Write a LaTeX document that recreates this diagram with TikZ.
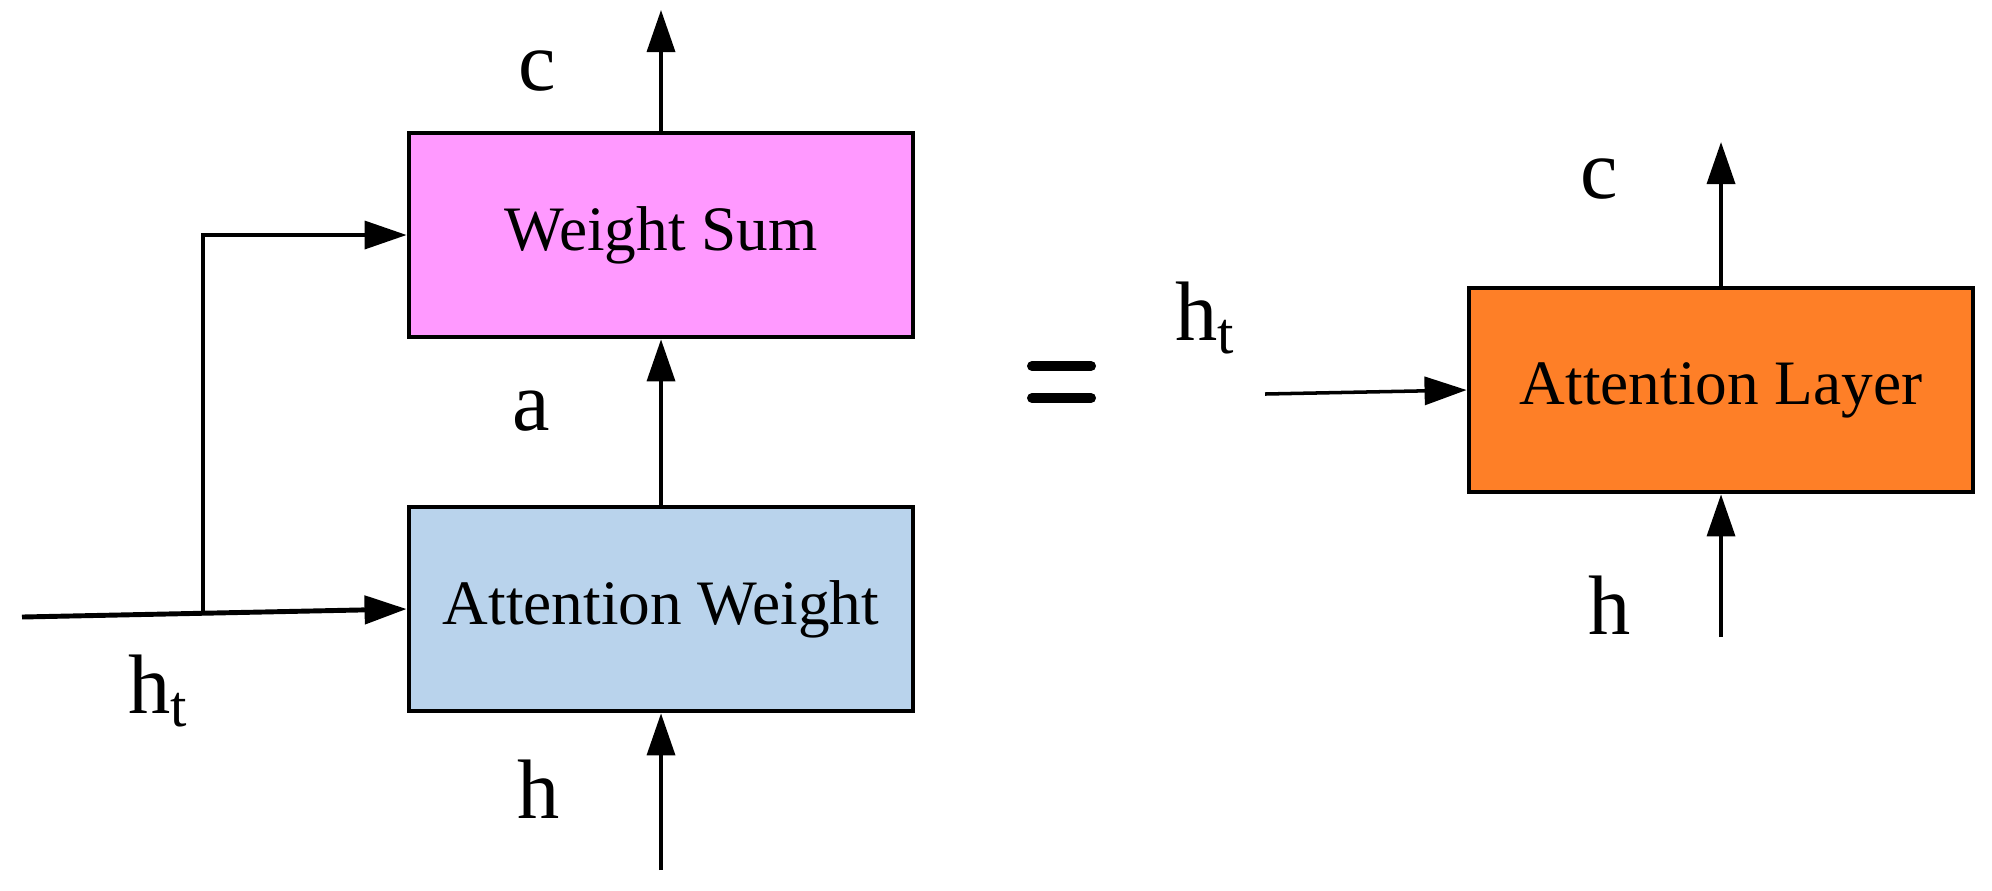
\documentclass[tikz,border=0pt]{standalone}
\usepackage{fontspec}
\setmainfont{Liberation Serif}
\usepackage{xcolor}
\usetikzlibrary{arrows.meta,positioning}
\definecolor{sumpink}{HTML}{FF99FF}
\definecolor{weightblue}{HTML}{B9D3EC}
\definecolor{layerorange}{HTML}{FE7F27}
\tikzset{
  blockbox/.style={draw=black,line width=1.3pt,minimum width=5.04cm,minimum height=2.04cm,inner sep=0pt,font=\fontsize{18}{22}\selectfont},
  sigarrow/.style={-{Triangle[length=0.42cm,width=0.28cm]},line width=1pt},
  siglabel/.style={font=\fontsize{24}{28}\selectfont,inner sep=0pt}
}

\begin{document}
\begin{tikzpicture}[x=0.01cm,y=-0.01cm]
\useasboundingbox (0,0) rectangle (1992,890);
% left: the two stages
\node[blockbox,fill=sumpink] (sum) at (661,235) {Weight Sum};
\node[blockbox,fill=weightblue] (weight) at (661,609) {Attention Weight};
% right: the whole layer
\node[blockbox,fill=layerorange] (layer) at (1721,390) {Attention Layer};
\coordinate (htin) at (22,617);
\coordinate (split) at (203,613);
\coordinate (cout) at (661,10);
\coordinate (hin) at (661,870);
\coordinate (htin2) at (1265,394);
\coordinate (cout2) at (1721,142);
\coordinate (hin2) at (1721,637);
\draw[sigarrow,line width=1.4pt] (htin) -- (weight.west);
\draw[sigarrow] (split) |- (sum.west);
\draw[sigarrow] (weight) -- (sum);
\draw[sigarrow] (sum) -- (cout);
\draw[sigarrow] (hin) -- (weight);
\draw[sigarrow] (htin2) -- (layer.west);
\draw[sigarrow] (layer) -- (cout2);
\draw[sigarrow] (hin2) -- (layer);
\node[siglabel,anchor=base] (c1) at (537,90) {c};
\node[siglabel,anchor=base] (a1) at (531,430) {a};
\node[siglabel,anchor=base] (h1) at (539,818) {h};
\node[siglabel,anchor=base west] (ht1) at (128,713) {h\textsubscript{t}};
\node[siglabel,anchor=base west] (ht2) at (1175,340) {h\textsubscript{t}};
\node[siglabel,anchor=base] (c2) at (1599,198) {c};
\node[siglabel,anchor=base] (h2) at (1610,634) {h};
% equals sign
\draw[line width=0.1cm,line cap=round] (1032,366) -- (1091,366) (1032,398) -- (1091,398);
\end{tikzpicture}
\end{document}
